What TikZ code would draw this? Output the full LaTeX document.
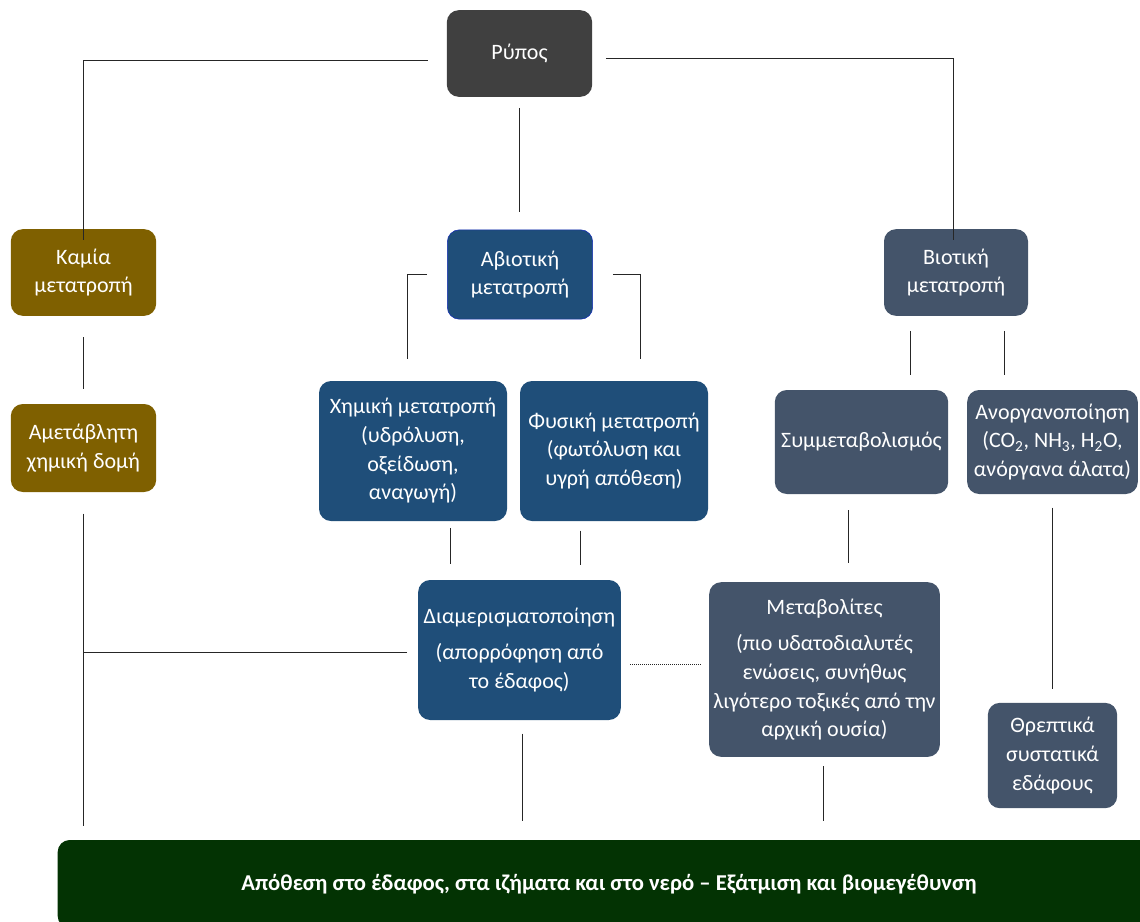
\documentclass[tikz,border=0pt]{standalone}
\usepackage{fontspec}
\setmainfont{Carlito}
\usepackage{tikz}
\definecolor{cgray}{HTML}{404040}
\definecolor{cbrown}{HTML}{7F6000}
\definecolor{cblue}{HTML}{1F4E79}
\definecolor{cslate}{HTML}{44546A}
\definecolor{cgreen}{HTML}{033303}
\definecolor{cline}{HTML}{262626}
\newcommand{\Sub}[1]{\textsubscript{#1}}

\begin{document}
\begin{tikzpicture}[x=0.75pt, y=-0.75pt,
  box/.style={rounded corners=9pt, text=white, align=center, inner sep=0pt,
    font=\fontsize{16.5}{21.5}\selectfont},
  ln/.style={draw=cline, line width=0.7pt}]

\useasboundingbox (0,0) rectangle (1140,922);

\node[box, fill=cgray, minimum width=109pt, minimum height=65pt] (R) at (519.5,53.5) {Ρύπος};
\node[box, fill=cbrown, minimum width=109pt, minimum height=65pt] (K) at (83.5,272.5) {Καμία\\μετατροπή};
\node[box, fill=cblue, draw=blue!45!cblue, minimum width=109pt, minimum height=67pt] (A) at (520,274.5) {Αβιοτική\\μετατροπή};
\node[box, fill=cslate, minimum width=108pt, minimum height=65pt] (B) at (956,272.5) {Βιοτική\\μετατροπή};
\node[box, fill=cbrown, minimum width=109pt, minimum height=66pt] (U) at (83.5,448) {Αμετάβλητη\\χημική δομή};
\node[box, fill=cblue, minimum width=141pt, minimum height=105pt] (C) at (413,451) {Χημική μετατροπή\\(υδρόλυση,\\οξείδωση,\\αναγωγή)};
\node[box, fill=cblue, minimum width=141pt, minimum height=105pt] (P) at (614,451) {Φυσική μετατροπή\\(φωτόλυση και\\υγρή απόθεση)};
\node[box, fill=cslate, minimum width=130pt, minimum height=78pt] (S) at (861.5,442) {Συμμεταβολισμός};
\node[box, fill=cslate, minimum width=128pt, minimum height=78pt] (N) at (1052.5,442) {Ανοργανοποίηση\\(CO\Sub{2}, NH\Sub{3}, H\Sub{2}O,\\ανόργανα άλατα)};
\node[box, fill=cblue, minimum width=152pt, minimum height=105pt] (D) at (519.5,650) {Διαμερισματοποίηση\\[6pt](απορρόφηση από\\το έδαφος)};
\node[box, fill=cslate, minimum width=173pt, minimum height=131pt] (M) at (824.5,669.5) {Μεταβολίτες\\[6pt](πιο υδατοδιαλυτές\\ενώσεις, συνήθως\\λιγότερο τοξικές από την\\αρχική ουσία)};
\node[box, fill=cslate, minimum width=97pt, minimum height=79pt] (T) at (1052.5,755.5) {Θρεπτικά\\συστατικά\\εδάφους};
\node[box, fill=cgreen, minimum width=827pt, minimum height=66pt, font=\fontsize{17}{20}\selectfont\bfseries] (E) at (609,884) {Απόθεση στο έδαφος, στα ιζήματα και στο νερό -- Εξάτμιση και βιομεγέθυνση};

\coordinate (J) at (U.south |- D.west);

\draw[ln, shorten <=14pt] ([yshift=-5pt]R.west) -| ([yshift=-8pt]K.north);
\draw[ln, shorten <=10pt] ([yshift=-4pt]R.east) -| ([xshift=-2pt, yshift=-8pt]B.north);
\draw[ln, shorten <=8pt, shorten >=13pt] (R.south) -- (R.south |- A.north);
\draw[ln, shorten <=15pt, shorten >=16pt] (A.west) -| ([xshift=-4pt]C.north);
\draw[ln, shorten <=15pt, shorten >=16pt] (A.east) -| ([xshift=20pt]P.north);
\draw[ln, shorten <=11pt, shorten >=11pt] ([xshift=-34pt]B.south) -- ([xshift=-34pt]B.south |- S.north);
\draw[ln, shorten <=11pt, shorten >=11pt] ([xshift=36pt]B.south) -- ([xshift=36pt]B.south |- N.north);
\draw[ln, shorten <=16pt, shorten >=11pt] (K.south) -- (U.north);
\draw[ln, shorten <=16pt, shorten >=10pt] (U.south) -- (U.south |- E.north);
\draw[ln, shorten <=8pt] ([yshift=-2pt]D.west) -- ([yshift=-2pt]J);
\draw[ln, shorten <=5pt, shorten >=12pt] ([xshift=28pt]C.south) -- ([xshift=28pt]C.south |- D.north);
\draw[ln, shorten <=7pt, shorten >=11pt] ([xshift=-25pt]P.south) -- ([xshift=-25pt]P.south |- D.north);
\draw[ln, line width=0.5pt, densely dotted, shorten <=7pt, shorten >=5pt] ([yshift=-11pt]D.east) -- ([yshift=-11pt]D.east -| M.west);
\draw[ln, shorten <=12pt, shorten >=14pt] ([xshift=-10pt]S.south) -- ([xshift=-10pt]S.south |- M.north);
\draw[ln, shorten <=10pt, shorten >=10pt] (N.south) -- (T.north);
\draw[ln, shorten <=10pt, shorten >=14pt] ([xshift=2pt]D.south) -- ([xshift=2pt]D.south |- E.north);
\draw[ln, shorten <=7pt, shorten >=14pt] ([xshift=-1pt]M.south) -- ([xshift=-1pt]M.south |- E.north);

\end{tikzpicture}
\end{document}
